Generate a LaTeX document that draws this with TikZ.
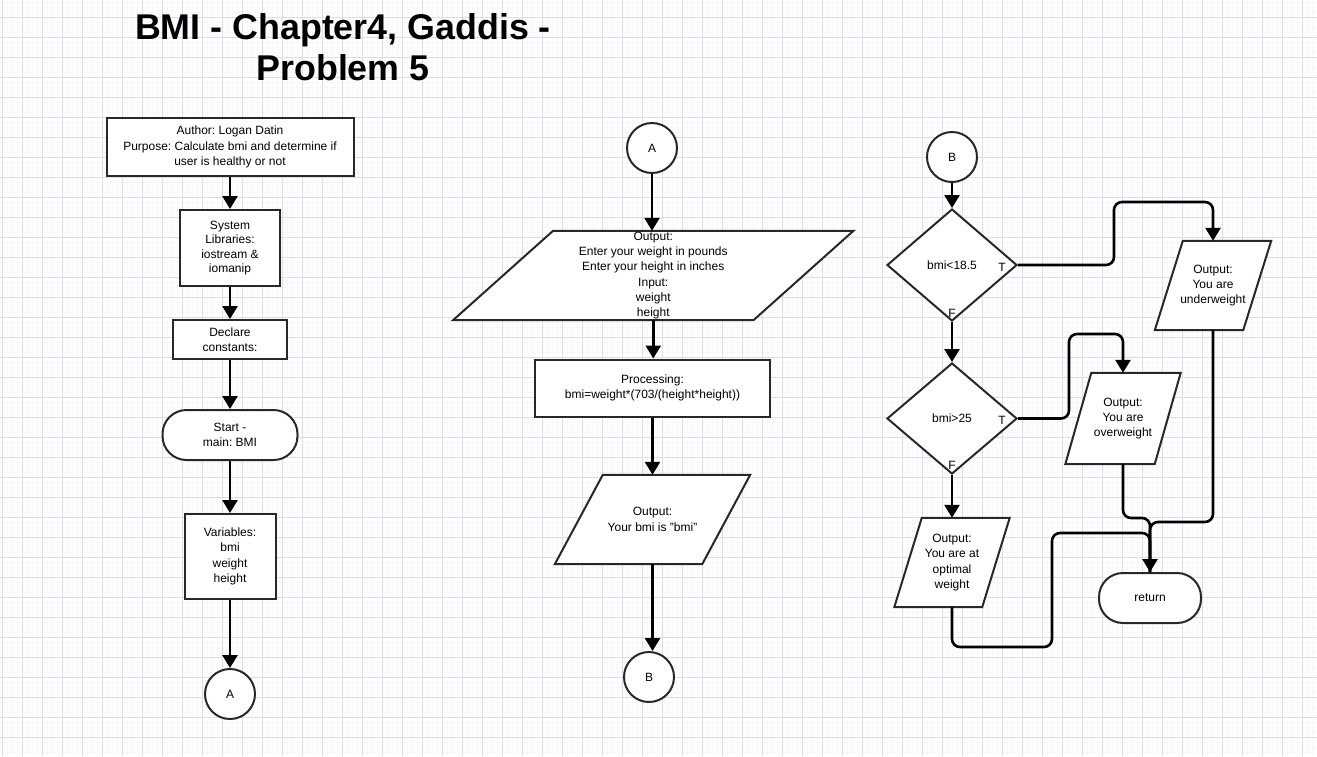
\documentclass[tikz,border=0pt]{standalone}
\usepackage{fontspec}
\setmainfont{Liberation Sans}
\usetikzlibrary{arrows.meta,shapes.geometric,calc}
\pgfdeclarelayer{gridlayer}
\pgfdeclarelayer{shapelayer}
\pgfsetlayers{gridlayer,shapelayer,main}
\definecolor{gridmajor}{RGB}{220,220,237}
\definecolor{gridminor}{RGB}{247,247,252}
\definecolor{shapeline}{RGB}{40,40,40}
\tikzset{
  txt/.style={font=\fontsize{12}{15.3}\selectfont, align=center, text=black},
  base/.style={txt, draw=shapeline, line width=2pt, fill=white, inner sep=0pt},
  procbox/.style={base, rectangle},
  termbox/.style={base, rectangle, rounded corners=24pt},
  conn/.style={base, circle, minimum size=50pt},
  decision/.style={base, diamond},
  iobox/.style={txt, inner sep=0pt},
  paraborder/.style={draw=shapeline, line width=2pt, fill=white, line join=miter},
  arr/.style={draw=black, line width=2.6pt, -{Triangle[length=13pt,width=15pt]}},
  flow/.style={draw=black, line width=2.6pt},
  tflabel/.style={txt, inner sep=0pt},
}
\newcommand{\paraframe}[2]{%
  \begin{pgfonlayer}{shapelayer}
  \path[paraborder] ($(#1.north west)+(#2/2,0)$) -- ($(#1.north east)+(#2/2,0)$) -- ($(#1.south east)-(#2/2,0)$) -- ($(#1.south west)-(#2/2,0)$) -- cycle;
  \end{pgfonlayer}}
\begin{document}
\frenchspacing
\begin{tikzpicture}[x=1pt,y=-1pt]
\useasboundingbox (0,0) rectangle (1317,756);
\begin{pgfonlayer}{gridlayer}
  \fill[white] (0,0) rectangle (1317,756);
  \foreach \i in {-1,...,264} \draw[gridminor, line width=0.8pt] ({2.3+5*\i},0) -- ({2.3+5*\i},756);
  \foreach \j in {-4,...,148} \draw[gridminor, line width=0.8pt] (0,{17.3+5*\j}) -- (1317,{17.3+5*\j});
  \foreach \i in {0,...,66} \draw[gridmajor, line width=0.9pt] ({2.3+20*\i},0) -- ({2.3+20*\i},756);
  \foreach \j in {-1,...,37} \draw[gridmajor, line width=0.9pt] (0,{17.3+20*\j}) -- (1317,{17.3+20*\j});
\end{pgfonlayer}

% title
\node[font=\fontsize{35.8}{41}\selectfont\bfseries, align=center, inner sep=0pt] (title) at (343,47) {BMI - Chapter4, Gaddis -\\Problem 5};

% left column
\node[procbox, minimum width=247pt, minimum height=58pt] (author) at (230,147) {Author: Logan Datin\\Purpose: Calculate bmi and determine if\\user is healthy or not};
\node[procbox, minimum width=100pt, minimum height=76pt, font=\fontsize{12}{14.2}\selectfont] (syslib) at (230,248) {System\\Libraries:\\iostream \&\\iomanip};
\node[procbox, minimum width=114pt, minimum height=39pt] (declare) at (230,339.5) {Declare\\constants:};
\node[termbox, minimum width=135pt, minimum height=50pt] (start) at (230,435) {Start -\\main: BMI};
\node[procbox, minimum width=91pt, minimum height=85pt] (vars) at (230,556.5) {Variables:\\bmi\\weight\\height};
\node[conn] (ca1) at (230,694) {A};

\draw[arr] (author.south) -- (syslib.north);
\draw[arr] (syslib.south) -- (declare.north);
\draw[arr] (declare.south) -- (start.north);
\draw[arr] (start.south) -- (vars.north);
\draw[arr] (vars.south) -- (ca1.north);

% middle column
\node[conn] (ca2) at (652,148) {A};
\node[iobox, minimum width=300pt, minimum height=89pt] (io) at (653.25,275.5) {Output:\\Enter your weight in pounds\\Enter your height in inches\\Input:\\weight\\height};
\paraframe{io}{100}
\node[procbox, minimum width=235pt, minimum height=57pt] (proc) at (652.5,388) {Processing:\\bmi=weight*(703/(height*height))};
\node[iobox, minimum width=147pt, minimum height=89pt] (outbmi) at (652.5,519.5) {Output:\\Your bmi is "bmi"};
\paraframe{outbmi}{48}
\node[conn] (cb1) at (649,677) {B};

\draw[arr] (ca2.south) -- (ca2.south |- io.north);
\draw[arr] (io.south) -- (io.south |- proc.north);
\draw[arr] (proc.south) -- (proc.south |- outbmi.north);
\draw[arr] (outbmi.south) -- (outbmi.south |- cb1.north);

% right part
\node[conn] (cb2) at (952,157) {B};
\node[decision, minimum width=130pt, minimum height=112pt] (d1) at (952,265) {bmi<18.5};
\node[decision, minimum width=130pt, minimum height=111pt] (d2) at (952,418.5) {bmi>25};
\node[tflabel] (t1) at (1002,267) {T};
\node[tflabel] (f1) at (952,313) {F};
\node[tflabel] (t2) at (1002,420) {T};
\node[tflabel] (f2) at (952,465) {F};

\node[iobox, minimum width=88pt, minimum height=89pt] (under) at (1213,285.5) {Output:\\You are\\underweight};
\paraframe{under}{28}
\node[iobox, minimum width=89pt, minimum height=91pt] (over) at (1123,418.5) {Output:\\You are\\overweight};
\paraframe{over}{26}
\node[iobox, minimum width=87.5pt, minimum height=89pt] (opt) at (952,562.5) {Output:\\You are at\\optimal\\weight};
\paraframe{opt}{27.5}
\node[termbox, minimum width=102pt, minimum height=50pt] (ret) at (1150,598) {return};

\coordinate (t1a) at (1114,265);
\coordinate (t1b) at (1114,202);
\coordinate (t2a) at (1069,418.5);
\coordinate (t2b) at (1069,334);
\coordinate (mo) at (1150,518);
\coordinate (mu) at (1150,522);
\coordinate (op2) at (1052,647);
\coordinate (op3) at (1052,533);
\coordinate (op4) at (1150,533);

\draw[arr] (cb2.south) -- (d1.north);
\draw[arr] (d1.south) -- (d2.north);
\draw[arr] (d2.south) -- (opt.north);
\draw[arr, rounded corners=8pt] (d1.east) -- (t1a) -- (t1b) -| (under.north);
\draw[arr, rounded corners=8pt] (d2.east) -- (t2a) -- (t2b) -| (over.north);
\draw[flow, rounded corners=8pt] (over.south) |- (mo) -- (ret.north);
\draw[flow, rounded corners=8pt] (under.south) |- (mu) -- (ret.north);
\draw[arr, rounded corners=8pt] (opt.south) |- (op2) -- (op3) -- (op4) -- (ret.north);
\end{tikzpicture}
\end{document}
